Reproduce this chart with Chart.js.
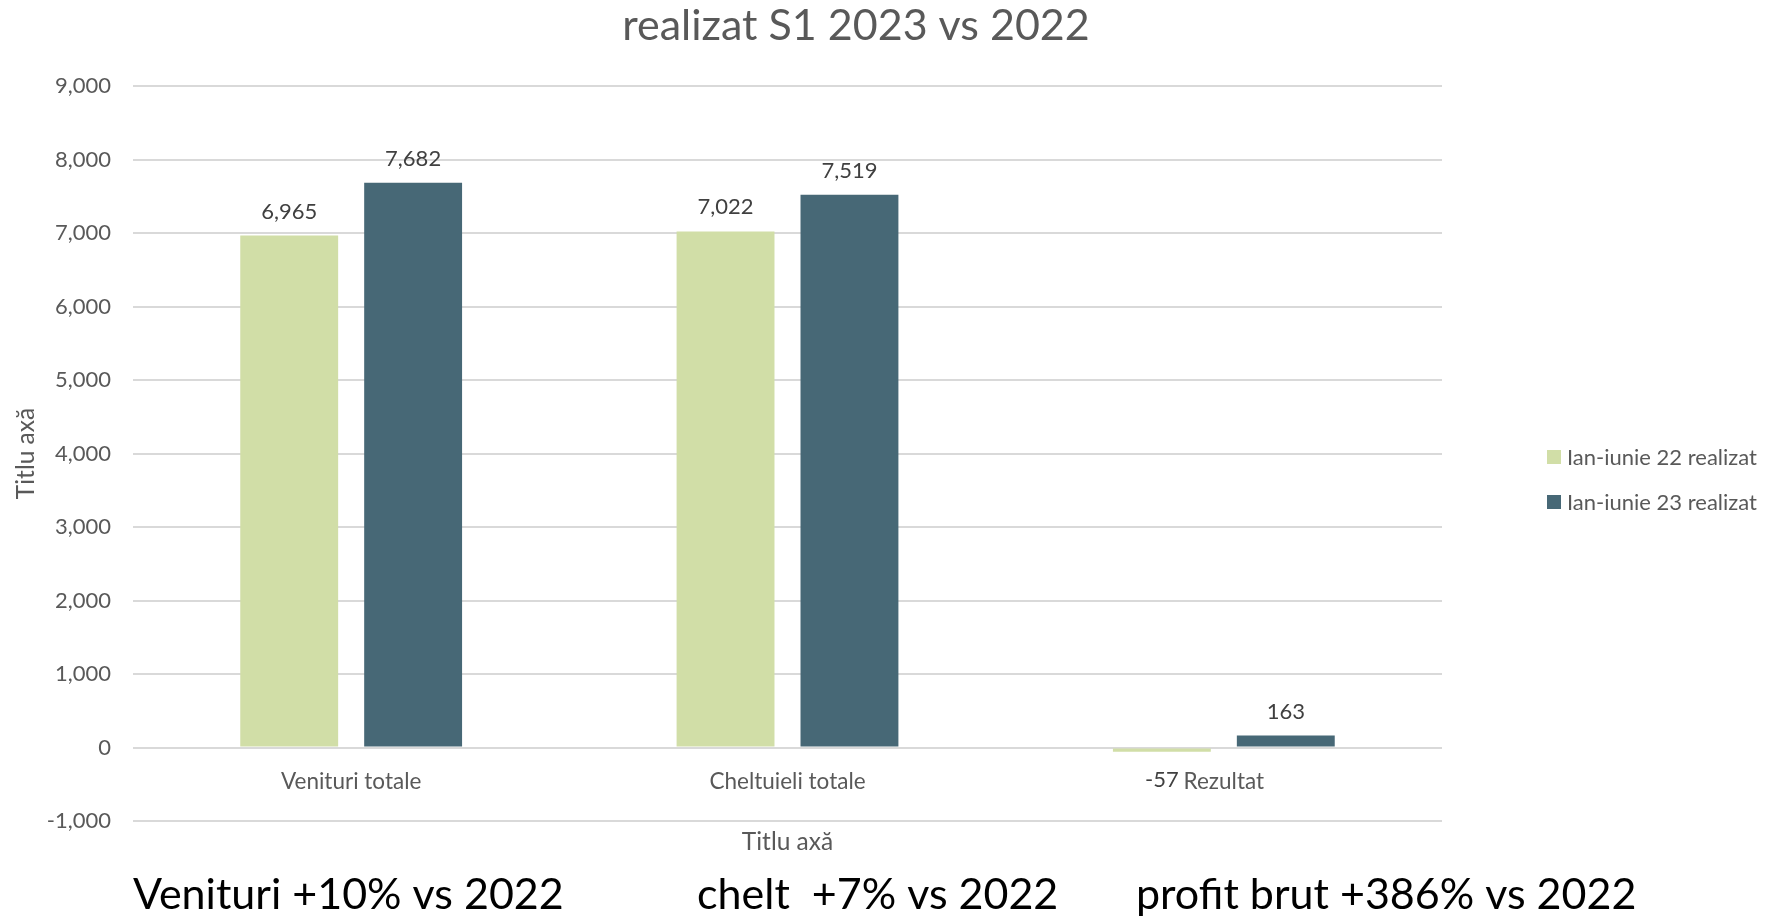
<!DOCTYPE html>
<html>
<head>
<meta charset="utf-8">
<script src="https://cdn.jsdelivr.net/npm/chart.js@4.4.1/dist/chart.umd.min.js"></script>
<style>
  html, body { margin: 0; padding: 0; background: #fff; }
  canvas { display: block; }
</style>
</head>
<body>
<canvas id="grafic" width="1771" height="922"></canvas>
<script>
// date
const categorii = ['Venituri totale', 'Cheltuieli totale', 'Rezultat'];
const realizat22 = [6965, 7022, -57];
const realizat23 = [7682, 7519, 163];
const numeSerii = ['Ian-iunie 22 realizat', 'Ian-iunie 23 realizat'];
const culori = ['#d1dea7', '#476876'];
const titlu = 'realizat S1 2023 vs 2022';
const titluAxa = 'Titlu axă';
const note = ['Venituri +10% vs 2022', 'chelt  +7% vs 2022', 'profit brut +386% vs 2022'];
const yMin = -1000, yMax = 9000, yPas = 1000;

const FONT = 'Lato';

// titlu, etichete de date, legenda si notele de jos
const extra = {
  id: 'extra',
  afterDatasetsDraw(chart) {
    const ctx = chart.ctx;
    const area = chart.chartArea;
    ctx.save();

    // etichete valori
    ctx.font = '22px ' + FONT;
    ctx.fillStyle = '#404040';
    ctx.textAlign = 'center';
    ctx.textBaseline = 'alphabetic';
    chart.data.datasets.forEach((ds, i) => {
      chart.getDatasetMeta(i).data.forEach((bar, j) => {
        const v = ds.data[j];
        const y = v >= 0 ? bar.y - 17 : bar.y + 35;
        ctx.fillText(v.toLocaleString('en-US'), bar.x, y);
      });
    });

    // titlu
    ctx.font = '43px ' + FONT;
    ctx.fillStyle = '#595959';
    ctx.fillText(titlu, 856, 40);

    // titlu axa x
    ctx.font = '24.5px ' + FONT;
    ctx.fillText(titluAxa, (area.left + area.right) / 2, 850);

    // legenda
    ctx.font = '22px ' + FONT;
    ctx.textAlign = 'left';
    ctx.textBaseline = 'middle';
    chart.data.datasets.forEach((ds, i) => {
      const y = 457 + i * 45;
      ctx.fillStyle = ds.backgroundColor;
      ctx.fillRect(1547, y - 7, 14, 14);
      ctx.fillStyle = '#595959';
      ctx.fillText(ds.label, 1567, y + 1);
    });

    // note
    ctx.font = '43px ' + FONT;
    ctx.fillStyle = '#000';
    ctx.textBaseline = 'alphabetic';
    const xs = [133, 697, 1136];
    note.forEach((t, i) => ctx.fillText(t, xs[i], 909));

    ctx.restore();
  }
};

const ctx = document.getElementById('grafic').getContext('2d');
new Chart(ctx, {
  type: 'bar',
  data: {
    labels: categorii,
    datasets: [
      { label: numeSerii[0], data: realizat22, backgroundColor: culori[0] },
      { label: numeSerii[1], data: realizat23, backgroundColor: culori[1] }
    ]
  },
  options: {
    responsive: false,
    animation: false,
    devicePixelRatio: 1,
    layout: { padding: { top: 86, right: 329, bottom: 101, left: 0 } },
    datasets: { bar: { categoryPercentage: 0.568, barPercentage: 0.79 } },
    plugins: {
      legend: { display: false },
      tooltip: { enabled: false }
    },
    scales: {
      x: {
        position: { y: 0 },
        grid: { display: false, drawTicks: false },
        border: { display: false },
        ticks: { color: '#595959', padding: 21, font: { family: FONT, size: 22.5 } }
      },
      y: {
        min: yMin,
        max: yMax,
        ticks: {
          stepSize: yPas,
          color: '#595959',
          padding: 22,
          font: { family: FONT, size: 22 },
          callback: v => v.toLocaleString('en-US')
        },
        grid: { color: '#d9d9d9', lineWidth: 2, drawTicks: false },
        border: { display: false },
        title: {
          display: true,
          text: titluAxa,
          color: '#595959',
          font: { family: FONT, size: 24.5 },
          padding: { top: 11, bottom: 0 }
        },
        afterFit(scale) { scale.width = 133; }
      }
    }
  },
  plugins: [extra]
});
</script>
</body>
</html>
